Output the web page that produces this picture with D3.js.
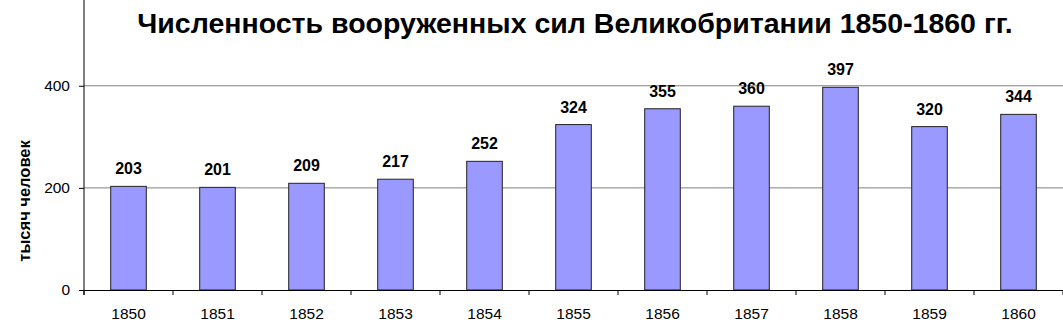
<!DOCTYPE html>
<html lang="ru">
<head>
<meta charset="UTF-8">
<title>Численность вооруженных сил Великобритании</title>
<script src="https://d3js.org/d3.v7.min.js"></script>
<style>
  body { margin: 0; background: #fff; }
  svg text { font-family: "Liberation Sans", Arial, sans-serif; }
</style>
</head>
<body>
<div id="chart"></div>
<script>
// данные
var years = ["1850","1851","1852","1853","1854","1855","1856","1857","1858","1859","1860"];
var values = [203, 201, 209, 217, 252, 324, 355, 360, 397, 320, 344];
var yTicks = [0, 200, 400];

var W = 1063, H = 330;
var margin = {top: 0, right: 0, bottom: 40, left: 84};
var width = W - margin.left - margin.right,
    height = 290 - margin.top;

var svg = d3.select("#chart").append("svg")
    .attr("width", W)
    .attr("height", H);

var g = svg.append("g")
    .attr("transform", "translate(" + margin.left + "," + margin.top + ")");

var x = d3.scaleBand()
    .domain(years)
    .range([0, width])
    .paddingInner(0.6)
    .paddingOuter(0.3);

var y = d3.scaleLinear()
    .domain([0, 568])
    .range([height, 0]);

// сетка
g.append("g")
  .selectAll("line")
  .data(yTicks.filter(function(d) { return d > 0; }))
  .enter().append("line")
    .attr("x1", 0)
    .attr("x2", width)
    .attr("y1", function(d) { return y(d); })
    .attr("y2", function(d) { return y(d); })
    .attr("stroke", "#808080")
    .attr("stroke-width", 1);

// столбцы
g.append("g")
  .selectAll("rect")
  .data(values)
  .enter().append("rect")
    .attr("x", function(d, i) { return x(years[i]); })
    .attr("y", function(d) { return y(d); })
    .attr("width", x.bandwidth())
    .attr("height", function(d) { return y(0) - y(d); })
    .attr("fill", "#9999ff")
    .attr("stroke", "#222")
    .attr("stroke-width", 1);

// подписи значений
g.append("g")
  .selectAll("text")
  .data(values)
  .enter().append("text")
    .attr("x", function(d, i) { return x(years[i]) + x.bandwidth() / 2; })
    .attr("y", function(d) { return y(d) - 12; })
    .attr("text-anchor", "middle")
    .style("font-size", "16px")
    .style("font-weight", "bold")
    .text(function(d) { return d; });

// ось Y
var yAxis = g.append("g")
    .call(d3.axisLeft(y).tickValues(yTicks).tickSize(5).tickPadding(9).tickFormat(d3.format("d")));
yAxis.select(".domain").remove();
yAxis.selectAll("line").attr("stroke", "#000");
yAxis.selectAll("text").style("font-size", "15.5px").attr("fill", "#000");
g.append("line")
    .attr("x1", 0).attr("x2", 0)
    .attr("y1", -margin.top).attr("y2", height + 5)
    .attr("stroke", "#000");

// ось X
var step = x.step();
var xAxis = g.append("g")
    .attr("transform", "translate(0," + height + ")")
    .call(d3.axisBottom(x).tickSize(0).tickPadding(18));
xAxis.select(".domain").attr("stroke", "#000");
xAxis.selectAll("text").style("font-size", "15.5px").attr("fill", "#000");
xAxis.selectAll("line.sep")
  .data(d3.range(years.length + 1))
  .enter().append("line")
    .attr("class", "sep")
    .attr("x1", function(i) { return x(years[0]) - x.paddingOuter() * step + i * step; })
    .attr("x2", function(i) { return x(years[0]) - x.paddingOuter() * step + i * step; })
    .attr("y1", 0)
    .attr("y2", 5)
    .attr("stroke", "#000");

// подпись оси Y
svg.append("text")
    .attr("transform", "translate(30,201) rotate(-90)")
    .attr("text-anchor", "middle")
    .style("font-size", "16.5px")
    .style("font-weight", "bold")
    .text("тысяч человек");

// заголовок
svg.append("text")
    .attr("x", 575)
    .attr("y", 33)
    .attr("text-anchor", "middle")
    .style("font-size", "28.5px")
    .style("font-weight", "bold")
    .text("Численность вооруженных сил Великобритании 1850-1860 гг.");
</script>
</body>
</html>
